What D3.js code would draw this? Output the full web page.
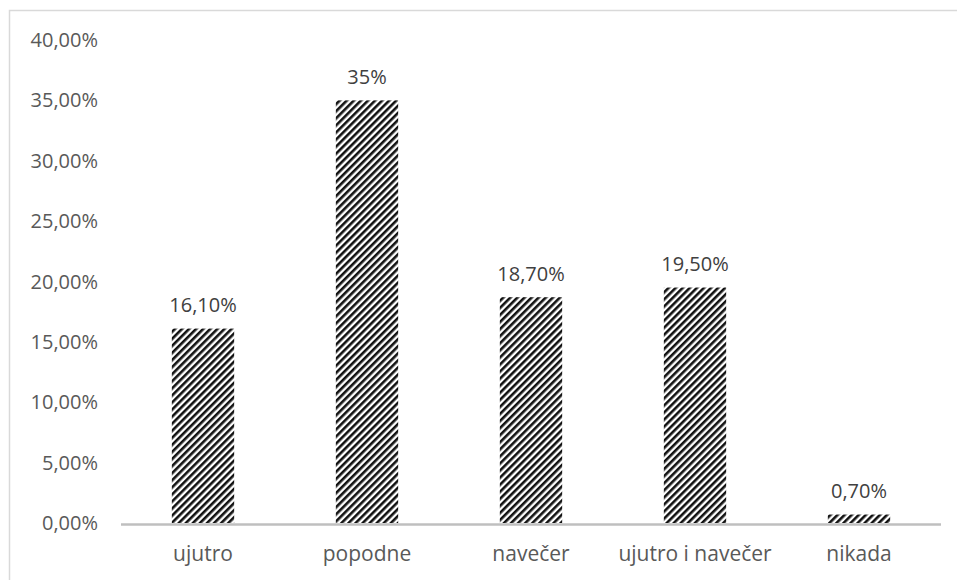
<!DOCTYPE html>
<html><head><meta charset="utf-8">
<script src="https://cdn.jsdelivr.net/npm/d3@7"></script>
<style>body{margin:0;background:#fff}</style>
</head><body>
<svg id="c" width="957" height="580"></svg>
<script>
const categories = ["ujutro", "popodne", "navečer", "ujutro i navečer", "nikada"];
const values = [16.1, 35, 18.7, 19.5, 0.7];
const dataLabels = ["16,10%", "35%", "18,70%", "19,50%", "0,70%"];
const yTicks = [0, 5, 10, 15, 20, 25, 30, 35, 40];

const svg = d3.select("#c");
const font = "'Open Sans', sans-serif";
const textColor = "#595959";

// frame
svg.append("rect").attr("x", 9.5).attr("y", 10.5).attr("width", 960).attr("height", 600)
  .attr("fill", "#fff").attr("stroke", "#d9d9d9").attr("stroke-width", 1.5);

const defs = svg.append("defs");
const pat = defs.append("pattern").attr("id", "stripes").attr("patternUnits", "userSpaceOnUse")
  .attr("width", 5).attr("height", 5).attr("patternTransform", "rotate(45)");
pat.append("rect").attr("width", 5).attr("height", 5).attr("fill", "#fff");
pat.append("rect").attr("width", 2.6).attr("height", 5).attr("fill", "#111");

const x = d3.scaleBand().domain(categories).range([121, 941]).paddingInner(0.62).paddingOuter(0.31);
const y = d3.scaleLinear().domain([0, 40]).range([523, 40]);

// y tick labels
svg.append("g").selectAll("text").data(yTicks).join("text")
  .attr("x", 98).attr("y", d => y(d) + 7)
  .attr("text-anchor", "end")
  .attr("font-family", font).attr("font-size", 20).attr("fill", textColor)
  .text(d => d.toFixed(2).replace(".", ",") + "%");

// bars
svg.append("g").selectAll("rect").data(values).join("rect")
  .attr("x", (d, i) => x(categories[i])).attr("width", x.bandwidth())
  .attr("y", d => y(d)).attr("height", d => y(0) - y(d))
  .attr("fill", "url(#stripes)");

// axis line
svg.append("line").attr("x1", 121).attr("x2", 941).attr("y1", y(0) + 1.5).attr("y2", y(0) + 1.5)
  .attr("stroke", "#bfbfbf").attr("stroke-width", 2.5);

// data labels
svg.append("g").selectAll("text").data(values).join("text")
  .attr("x", (d, i) => x(categories[i]) + x.bandwidth() / 2).attr("y", d => y(d) - 16.5)
  .attr("text-anchor", "middle").attr("font-family", font).attr("font-size", 20).attr("fill", "#404040")
  .text((d, i) => dataLabels[i]);

// category labels
svg.append("g").selectAll("text").data(categories).join("text")
  .attr("x", d => x(d) + x.bandwidth() / 2).attr("y", 561)
  .attr("text-anchor", "middle").attr("font-family", font).attr("font-size", 21).attr("fill", textColor)
  .text(d => d);
</script>
</body></html>
